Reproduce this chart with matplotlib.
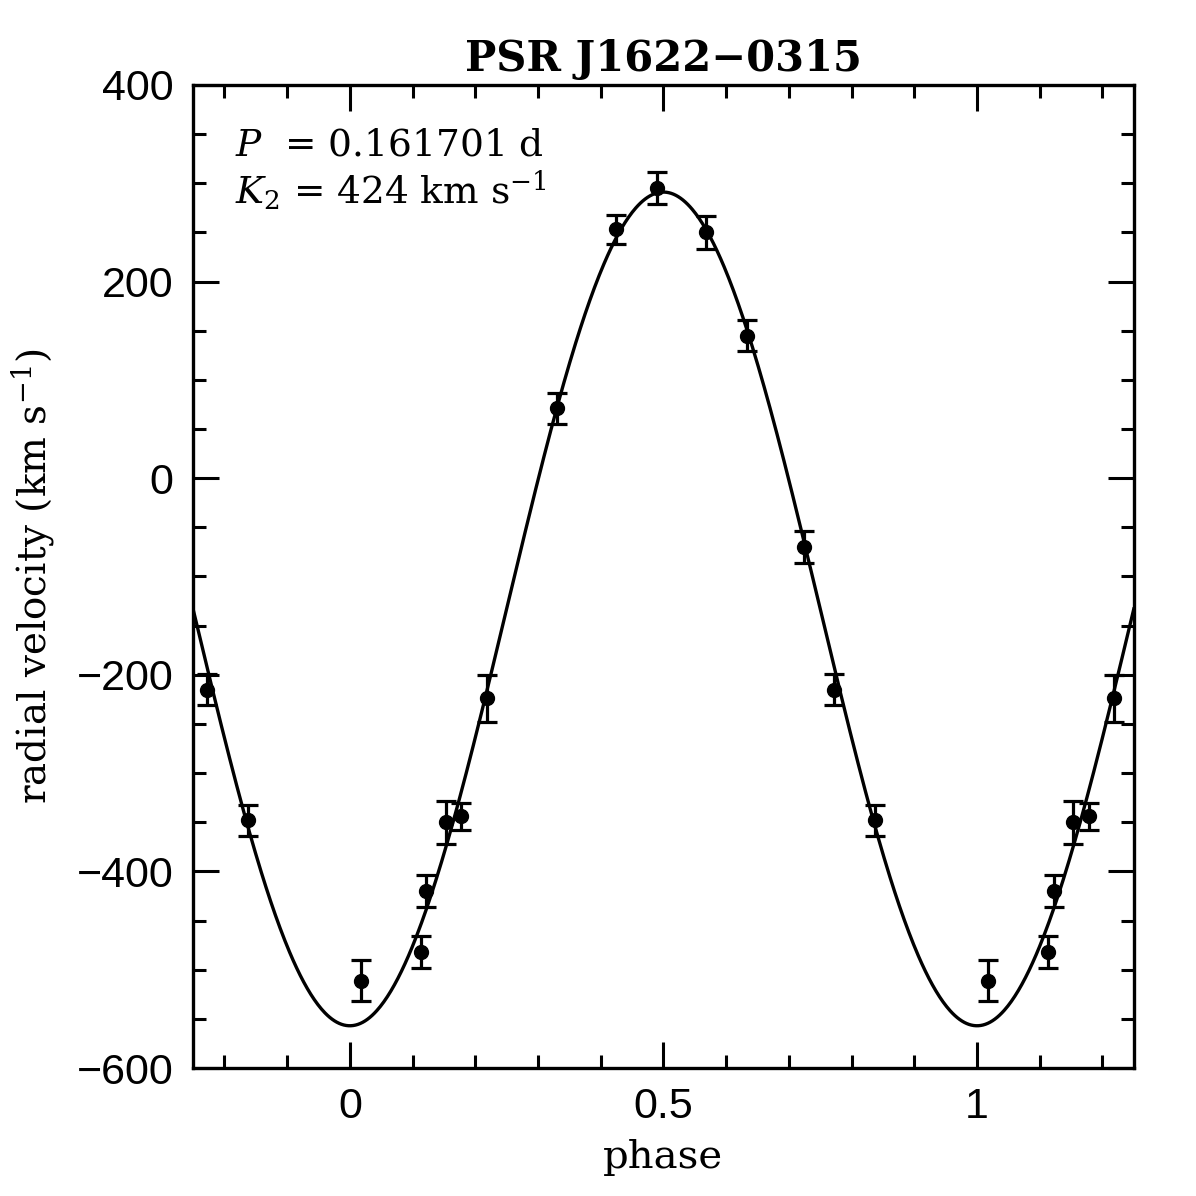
import numpy as np
import matplotlib
matplotlib.use("Agg")
import matplotlib.pyplot as plt
from matplotlib.ticker import MultipleLocator

# ---- data ----
phase = [0.018, 0.113, 0.122, 0.153, 0.178, 0.218, 0.330, 0.424, 0.490,
         0.568, 0.634, 0.724, 0.772, 0.837]
rv = [-511, -482, -420, -350, -344, -224, 71, 253, 295,
      250, 145, -70, -215, -348]
rv_err = [21, 16, 16, 22, 14, 24, 16, 15, 16, 17, 16, 16, 16, 16]

gamma = -133.0
K2 = 424.0
period_label = "0.161701"

title = "PSR J1622\u22120315"
xlim = (-0.25, 1.25)
ylim = (-600, 400)

plt.rcParams['mathtext.fontset'] = 'dejavuserif'

fig = plt.figure(figsize=(11.96, 11.96), dpi=100)
ax = fig.add_axes([0.1614, 0.107, 0.7866, 0.822])

# model curve
ph = np.linspace(xlim[0], xlim[1], 800)
ax.plot(ph, gamma - K2 * np.cos(2 * np.pi * ph), color='black', lw=2.4, zorder=2)

# data repeated over phase range
px, py, pe = [], [], []
for shift in (-1, 0, 1):
    for p, v, e in zip(phase, rv, rv_err):
        q = p + shift
        if xlim[0] <= q <= xlim[1]:
            px.append(q); py.append(v); pe.append(e)
ax.errorbar(px, py, yerr=pe, fmt='o', color='black', ms=10, elinewidth=2.3,
            capsize=7.5, capthick=2.3, zorder=3)

ax.set_xlim(*xlim)
ax.set_ylim(*ylim)

ax.xaxis.set_major_locator(MultipleLocator(0.5))
ax.xaxis.set_minor_locator(MultipleLocator(0.1))
ax.yaxis.set_major_locator(MultipleLocator(200))
ax.yaxis.set_minor_locator(MultipleLocator(50))
ax.set_xticks([0, 0.5, 1])
ax.set_xticklabels(['0', '0.5', '1'])

ax.tick_params(which='both', direction='in', top=True, right=True, width=2.2,
               labelsize=31, pad=14)
ax.tick_params(which='major', length=19)
ax.tick_params(which='minor', length=9.5)
for lab in ax.get_xticklabels() + ax.get_yticklabels():
    lab.set_family('Liberation Sans')
for s in ax.spines.values():
    s.set_linewidth(2.4)

ax.set_xlabel('phase', family='DejaVu Serif', fontsize=29, labelpad=8)
ax.set_ylabel(r'radial velocity (km s$^{-1}$)', family='DejaVu Serif', fontsize=28, labelpad=14)
ax.set_title(title, family='DejaVu Serif', fontweight='bold', fontsize=30, pad=10)

ax.text(0.045, 0.957, r'$P$  = ' + period_label + ' d', transform=ax.transAxes,
        family='DejaVu Serif', fontsize=27, va='top', ha='left')
ax.text(0.045, 0.915, r'$K_2$ = %d km s$^{-1}$' % int(K2), transform=ax.transAxes,
        family='DejaVu Serif', fontsize=27, va='top', ha='left')

fig.savefig('out.png', dpi=100)
